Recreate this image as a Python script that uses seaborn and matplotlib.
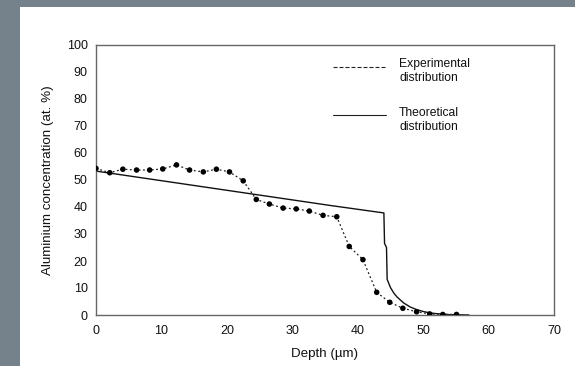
import matplotlib
matplotlib.use("Agg")
import matplotlib.pyplot as plt
from matplotlib.patches import Rectangle
from matplotlib.lines import Line2D
from matplotlib.legend_handler import HandlerLine2D
import seaborn as sns
import pandas as pd

# Measured aluminium profile (depth in µm, at. %)
exp_depth = [0.0, 2.1, 4.1, 6.2, 8.2, 10.2, 12.3, 14.3, 16.4, 18.4, 20.4, 22.5,
             24.5, 26.5, 28.6, 30.6, 32.6, 34.7, 36.8, 38.7, 40.8, 42.9, 44.9,
             46.9, 49.0, 51.0, 53.0, 55.1]
exp_conc = [54.3, 52.7, 54.0, 53.7, 53.7, 54.1, 55.6, 53.7, 53.0, 54.0, 53.0, 49.7,
            42.8, 41.1, 39.6, 39.3, 38.5, 36.9, 36.4, 25.4, 20.5, 8.4, 4.7,
            2.5, 1.2, 0.4, 0.2, 0.2]

# Calculated aluminium profile
theo_depth = [0.0, 36.0, 44.0, 44.1, 44.4, 44.5, 45.0, 45.5, 46.0, 47.0, 48.0,
              49.0, 50.0, 51.0, 52.0, 54.0, 56.0, 57.0]
theo_conc = [53.3, 40.5, 37.8, 26.5, 25.0, 13.2, 10.2, 8.2, 6.7, 4.5, 3.0,
             2.0, 1.3, 0.8, 0.5, 0.15, 0.05, 0.0]

x_ticks = [0, 10, 20, 30, 40, 50, 60, 70]
y_ticks = [0, 10, 20, 30, 40, 50, 60, 70, 80, 90, 100]
legend_labels = ["Experimental\ndistribution", "Theoretical\ndistribution"]


class HandlerFirstLine(HandlerLine2D):
    """Legend key raised towards the first line of a two-line label."""

    def create_artists(self, legend, orig_handle, xdescent, ydescent, width,
                       height, fontsize, trans):
        artists = super().create_artists(legend, orig_handle, xdescent, ydescent,
                                         width, height, fontsize, trans)
        for a in artists:
            a.set_ydata([y + 0.4 * fontsize for y in a.get_ydata()])
        return artists


sns.set_theme(style="white")
plt.rcParams["font.family"] = ["Liberation Sans", "DejaVu Sans"]
plt.rcParams["font.size"] = 9

exp_df = pd.DataFrame({"depth": exp_depth, "conc": exp_conc})
theo_df = pd.DataFrame({"depth": theo_depth, "conc": theo_conc})

fig = plt.figure(figsize=(5.75, 3.66), dpi=100, facecolor="#76828b")
fig.patches.append(Rectangle((20 / 575, 0), 1, 1 - 7 / 366, transform=fig.transFigure,
                             facecolor="white", edgecolor="none", zorder=-10))
ax = fig.add_axes([96 / 575, 1 - 315 / 366, 458 / 575, 270 / 366])
ax.set_facecolor("white")

sns.lineplot(data=theo_df, x="depth", y="conc", ax=ax, color="#111111",
             linewidth=1.0, sort=False, estimator=None)
sns.lineplot(data=exp_df, x="depth", y="conc", ax=ax, color="#222222",
             linewidth=0.9, linestyle=(0, (1.5, 2.0)), sort=False, estimator=None)
sns.scatterplot(data=exp_df, x="depth", y="conc", ax=ax, color="black",
                s=16, edgecolor="none", zorder=5)

ax.set_xlim(0, 70)
ax.set_ylim(0, 100)
ax.set_xticks(x_ticks)
ax.set_yticks(y_ticks)
ax.tick_params(axis="both", direction="in", length=2.5, width=0.6, color="#999999",
               labelsize=9, colors="#111111", pad=6)
ax.tick_params(axis="x", pad=7)
for s in ax.spines.values():
    s.set_color("#666666")
    s.set_linewidth(1.0)

ax.set_xlabel("Depth (µm)", fontsize=9.6, color="#111111", labelpad=8)
ax.set_ylabel("Aluminium concentration (at. %)", fontsize=9.6, color="#111111",
              labelpad=9)

handles = [Line2D([], [], color="#222222", linewidth=0.8, linestyle=(0, (3.6, 1.8))),
           Line2D([], [], color="#222222", linewidth=0.8)]
ax.legend(handles, legend_labels,
          handler_map={Line2D: HandlerFirstLine()},
          loc="upper left", bbox_to_anchor=(0.517, 0.95), frameon=False,
          handlelength=4.4, handletextpad=1.05, labelspacing=1.85, borderpad=0,
          borderaxespad=0, fontsize=8.75, labelcolor="#111111")

fig.savefig("out.png", dpi=100, facecolor=fig.get_facecolor())
